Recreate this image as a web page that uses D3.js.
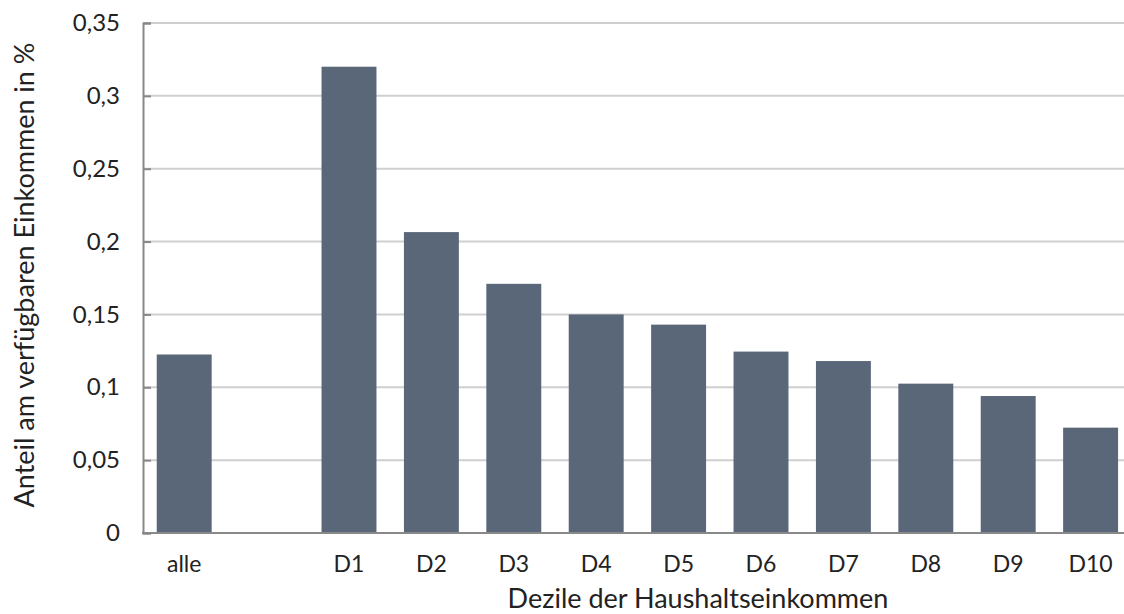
<!DOCTYPE html>
<html>
<head>
<meta charset="utf-8">
<script src="https://cdn.jsdelivr.net/npm/d3@7"></script>
<style>
  html, body { margin: 0; padding: 0; background: #fff; }
  svg { display: block; font-family: Lato, "Open Sans", sans-serif; }
</style>
</head>
<body>
<svg id="chart" width="1124" height="614"></svg>
<script>
const categories = ["alle", "", "D1", "D2", "D3", "D4", "D5", "D6", "D7", "D8", "D9", "D10"];
const values = [0.1225, null, 0.320, 0.2065, 0.171, 0.150, 0.143, 0.1245, 0.118, 0.1025, 0.094, 0.0723];
const yTicks = [0, 0.05, 0.1, 0.15, 0.2, 0.25, 0.3, 0.35];
const yTickLabels = ["0", "0,05", "0,1", "0,15", "0,2", "0,25", "0,3", "0,35"];
const xTitle = "Dezile der Haushaltseinkommen";
const yTitle = "Anteil am verfügbaren Einkommen in %";

(function () {
const svg = d3.select("#chart");
const mLeft = 143, mTop = 23, mBottom = 533;
const step = 82.4;

const x = d3.scaleBand()
  .domain(categories.map((c, i) => i))
  .range([mLeft, mLeft + step * categories.length])
  .paddingInner(1/3)
  .paddingOuter(1/6);

const y = d3.scaleLinear().domain([0, 0.35]).range([mBottom, mTop]);

// gridlines
svg.append("g")
  .selectAll("line")
  .data(yTicks.slice(1))
  .join("line")
  .attr("x1", mLeft).attr("x2", 1124)
  .attr("y1", d => y(d)).attr("y2", d => y(d))
  .attr("stroke", "#cfcfcf").attr("stroke-width", 2);

// bars
svg.append("g")
  .selectAll("rect")
  .data(values.map((v, i) => ({ v, i })).filter(d => d.v != null))
  .join("rect")
  .attr("x", d => x(d.i))
  .attr("width", x.bandwidth())
  .attr("y", d => y(d.v))
  .attr("height", d => y(0) - y(d.v))
  .attr("fill", "#596779");

// y axis
const yAxis = d3.axisLeft(y)
  .tickValues(yTicks)
  .tickFormat((d, i) => yTickLabels[i])
  .tickSize(-8)
  .tickPadding(24);
const gy = svg.append("g").attr("transform", `translate(${mLeft},0)`).call(yAxis);
gy.select(".domain").attr("stroke", "#888").attr("stroke-width", 2);
gy.selectAll(".tick line").attr("stroke", "#888").attr("stroke-width", 2);
gy.selectAll(".tick text")
  .attr("fill", "#222").attr("font-size", 24)
  .attr("font-family", "Lato, sans-serif")
  .attr("x", -23);

// x axis baseline
const xAxis = d3.axisBottom(x)
  .tickFormat(i => categories[i])
  .tickSize(0)
  .tickPadding(23);
const gx = svg.append("g").attr("transform", `translate(0,${mBottom})`).call(xAxis);
gx.select(".domain").attr("stroke", "#888").attr("stroke-width", 2)
  .attr("d", `M${mLeft - 1},0H1124`);
gx.selectAll(".tick text")
  .attr("fill", "#222").attr("font-size", 23)
  .attr("font-family", "Lato, sans-serif");

// titles
svg.append("text")
  .attr("x", 698).attr("y", 608)
  .attr("text-anchor", "middle")
  .attr("font-size", 27)
  .attr("fill", "#222")
  .text(xTitle);

svg.append("text")
  .attr("transform", "translate(34,275) rotate(-90)")
  .attr("text-anchor", "middle")
  .attr("font-size", 27)
  .attr("fill", "#222")
  .text(yTitle);
})();
</script>
</body>
</html>
